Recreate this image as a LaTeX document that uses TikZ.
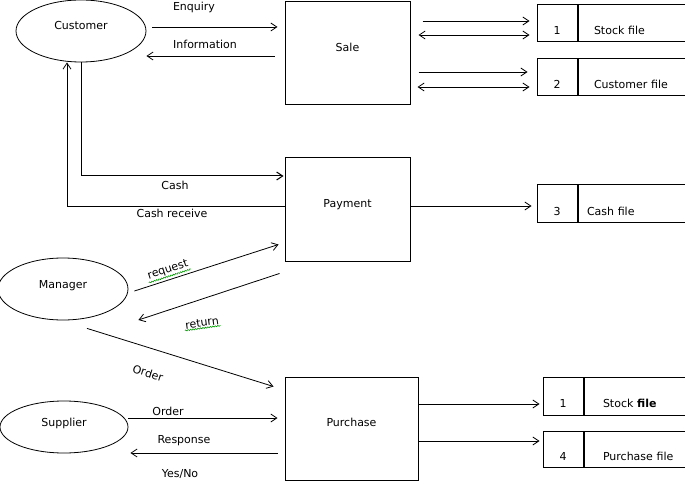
\documentclass[tikz,border=0pt]{standalone}
\usepackage{fontspec}
\setmainfont{DejaVu Sans}
\usetikzlibrary{calc,arrows.meta,shapes.geometric,decorations.pathmorphing}
\tikzset{>={Straight Barb[length=6pt,width=8pt]}}
\tikzset{
  every node/.style={font=\fontsize{11}{13}\selectfont},
  proc/.style={draw,line width=1pt,minimum width=125pt,minimum height=103pt,
    text height=8pt,text depth=12pt},
  ent/.style={draw,ellipse,line width=0.8pt,minimum width=130pt,minimum height=62pt,
    inner sep=0pt,text height=8pt,text depth=10pt},
  numcell/.style={draw,line width=1pt,minimum width=40pt,inner xsep=0pt,
    text height=24pt,text depth=1pt,inner ysep=2pt},
  namecell/.style={draw,line width=1pt,anchor=west,text width=110pt,align=left,
    inner xsep=16pt,text height=24pt,text depth=1pt,inner ysep=2pt},
  lbl/.style={inner sep=1pt},
  flow/.style={line width=0.8pt,->},
  squiggle/.style={green!60!black,line width=0.6pt,decorate,
    decoration={snake,amplitude=0.6pt,segment length=2.5pt}}
}

\begin{document}
\begin{tikzpicture}[x=1pt,y=-1pt]
\clip (0,0) rectangle (685,481);

% external entities
\node[ent] (customer) at (81,31) {Customer};
\node[ent] (manager) at (63,289) {Manager};
\node[ent,minimum width=128pt,minimum height=52pt] (supplier) at (64,427) {Supplier};

% processes
\node[proc] (sale) at (347.5,53.5) {Sale};
\node[proc] (payment) at (347.5,209.5) {Payment};
\node[proc,minimum width=133pt] (purchase) at (351.5,428.5) {Purchase};

% data stores
\node[numcell,minimum height=37pt] (stockno) at (557,23.5) {1};
\node[namecell,minimum height=37pt] (stockname) at (stockno.east) {Stock file};
\node[numcell,minimum height=37pt] (custno) at (557,77.5) {2};
\node[namecell,minimum height=37pt] (custname) at (custno.east) {Customer file};
\node[numcell,minimum height=37pt] (cashno) at (557,203.5) {3};
\node[namecell,minimum height=37pt,inner xsep=9pt] (cashname) at (cashno.east) {Cash file};
\node[numcell,minimum height=38pt] (pstockno) at (563,396) {1};
\node[namecell,minimum height=38pt,inner xsep=19pt] (pstockname) at (pstockno.east) {Stock \textbf{file}};
\node[numcell,minimum height=36pt] (purchno) at (563,449) {4};
\node[namecell,minimum height=36pt,inner xsep=19pt] (purchname) at (purchno.east) {Purchase file};

% customer <-> sale
\draw[flow,shorten <=6pt,shorten >=7pt] (customer.east |- 0,27) -- (sale.west |- 0,27);
\draw[flow,shorten <=10pt] (sale.west |- 0,56) -- (customer.east |- 0,56);
\node[lbl] (enq) at (194,7) {Enquiry};
\node[lbl] (info) at (205,44) {Information};

% sale <-> stores
\draw[flow,shorten <=12pt,shorten >=7pt] (sale.east |- 0,21) -- (stockno.west |- 0,21);
\draw[flow,<->,shorten <=8pt,shorten >=7pt] (sale.east |- 0,35) -- (stockno.west |- 0,35);
\draw[flow,shorten <=8pt,shorten >=9pt] (sale.east |- 0,72) -- (custno.west |- 0,72);
\draw[flow,<->,shorten <=7pt,shorten >=7pt] (sale.east |- 0,87) -- (custno.west |- 0,87);

% customer <-> payment
\draw[flow,line width=1pt,shorten >=1pt] (customer.south) |- (payment.west |- 0,176);
\draw[flow] (payment.west |- 0,206) -| ([xshift=-14pt]customer.south);
\node[lbl] (cash) at (175,185) {Cash};
\node[lbl] (cashrec) at (172,213) {Cash receive};
\draw[flow,shorten >=5pt] (payment.east |- 0,206) -- (cashno.west |- 0,206);

% manager <-> payment
\draw[flow] ($(manager.east)+(6,2)$) -- ($(payment.south west)+(-6,-17)$);
\draw[flow] ($(payment.south west)+(-5,12)$) -- ($(manager.east)+(10,31)$);
\node[lbl,rotate=18] (req) at (168,270) {request};
\node[lbl,rotate=8] (ret) at (202,323) {return};
\draw[squiggle] (req.south west) -- (req.south east);
\draw[squiggle] (ret.south west) -- (ret.south east);

% purchasing
\draw[flow] ($(manager.south)+(24,8)$) -- ($(purchase.north west)+(-11,10)$);
\node[lbl,rotate=-17] (ordm) at (148,373) {Order};
\draw[flow,shorten >=7pt] (supplier.east |- 0,418) -- (purchase.west |- 0,418);
\draw[flow,shorten <=7pt,shorten >=2pt] (purchase.west |- 0,453) -- (supplier.east |- 0,453);
\node[lbl] (ords) at (168,411) {Order};
\node[lbl] (resp) at (184,441) {Response};
\node[lbl] (yesno) at (180,474) {Yes/No};
\draw[flow,shorten >=3pt] (purchase.east |- 0,404) -- (pstockno.west |- 0,404);
\draw[flow,shorten >=3pt] (purchase.east |- 0,441) -- (purchno.west |- 0,441);
\end{tikzpicture}
\end{document}
